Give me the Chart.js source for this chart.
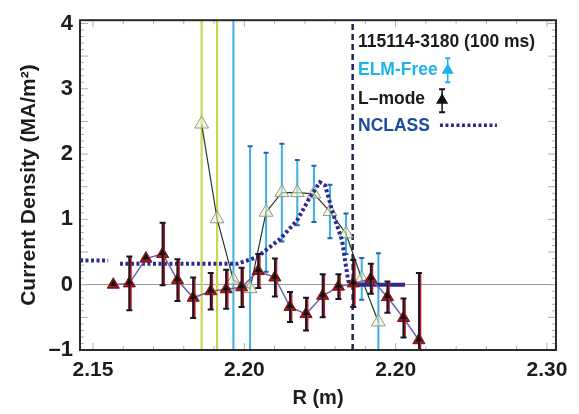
<!DOCTYPE html>
<html>
<head>
<meta charset="utf-8">
<script src="https://cdn.jsdelivr.net/npm/chart.js@4.4.1/dist/chart.umd.min.js"></script>
<style>
  html, body { margin: 0; padding: 0; background: #fff; }
</style>
</head>
<body>
<canvas id="myChart" width="579" height="414"></canvas>
<script>
// axis ticks (the third x label really reads 2.20 in the figure)
const xTickValues = [2.15, 2.20, 2.25, 2.30];
const xTickLabels = ['2.15', '2.20', '2.20', '2.30'];
const yTickValues = [-1, 0, 1, 2, 3, 4];
const yTickLabels = ['\u20131', '0', '1', '2', '3', '4'];
const xMin = 2.1457, xMax = 2.303;
const yMin = -1, yMax = 4.05;

// L-mode (filled triangles)
const lmodeR = [2.1567, 2.1620, 2.1675, 2.1730, 2.1779, 2.1831, 2.1889, 2.1940, 2.1991, 2.2046,
                2.2101, 2.2151, 2.2204, 2.2259, 2.2311, 2.2360, 2.2418, 2.2473, 2.2526, 2.2577];
const lmodeJ = [0.00, 0.02, 0.40, 0.47, 0.07, -0.20, -0.10, -0.07, -0.04, 0.21,
                0.11, -0.34, -0.45, -0.17, -0.03, 0.02, 0.09, -0.19, -0.51, -0.85];
const lmodeErr = [0, 0.41, 0, 0.48, 0.32, 0.31, 0.28, 0.30, 0.30, 0.26,
                  0.29, 0.23, 0.25, 0.33, 0.19, 0.36, 0.23, 0.24, 0.30, 1.03];

// ELM-Free (open triangles)
const elmR = [2.1859, 2.1910, 2.1964, 2.2019, 2.2072, 2.2124, 2.2175, 2.2230, 2.2283, 2.2336, 2.2388, 2.2443];
const elmJ = [2.46, 1.01, 0.07, -0.06, 1.11, 1.41, 1.41, 1.39, 1.12, 0.78, 0.09, -0.57];
const elmErr = [7, 7, 7, 2.18, 0.91, 0.75, 0.50, 0.43, 0.41, 0.31, 0.32, 1.05];

// NCLASS model (null = break in the curve)
const nclassR = [2.1457, 2.1550, 2.1552, 2.1589, 2.1854, 2.1976, 2.2042, 2.2118, 2.2174, 2.2217,
                 2.2250, 2.2267, 2.2293, 2.2323, 2.2333, 2.2343, 2.2349, 2.2531];
const nclassJ = [0.37, 0.37, null, 0.32, 0.32, 0.32, 0.42, 0.70, 0.98, 1.34,
                 1.57, 1.52, 1.09, 0.68, 0.37, 0.07, 0.00, 0.00];
const nclassSolidFromR = 2.2349;

const separatrixR = 2.2358;

const shotLabel = '115114-3180 (100 ms)';
const seriesNames = ['ELM-Free', 'L\u2013mode', 'NCLASS'];

const FONT = '"Liberation Sans", Arial, Helvetica, sans-serif';
Chart.defaults.font.family = FONT;
Chart.defaults.color = '#1c1c1c';

const toPoints = (xs, ys) => xs.map((x, i) => ({ x: x, y: ys[i] }));

function drawBar(ctx, x, top, bot, color, width, capColor, capW) {
    ctx.strokeStyle = color;
    ctx.lineWidth = width;
    ctx.beginPath();
    ctx.moveTo(x, top);
    ctx.lineTo(x, bot);
    ctx.stroke();
    if (capW) {
        ctx.strokeStyle = capColor;
        ctx.lineWidth = 2;
        ctx.beginPath();
        ctx.moveTo(x - capW / 2, top); ctx.lineTo(x + capW / 2, top);
        ctx.moveTo(x - capW / 2, bot); ctx.lineTo(x + capW / 2, bot);
        ctx.stroke();
    }
}

function tri(ctx, x, y, r, fill, stroke) {
    ctx.beginPath();
    ctx.moveTo(x, y - r);
    ctx.lineTo(x + r * 0.87, y + r * 0.5);
    ctx.lineTo(x - r * 0.87, y + r * 0.5);
    ctx.closePath();
    if (fill) { ctx.fillStyle = fill; ctx.fill(); }
    if (stroke) { ctx.strokeStyle = stroke; ctx.lineWidth = 1; ctx.stroke(); }
}

function clipArea(chart) {
    const a = chart.chartArea;
    chart.ctx.beginPath();
    chart.ctx.rect(a.left, a.top, a.right - a.left, a.bottom - a.top);
    chart.ctx.clip();
}

// error bars: ELM-Free behind the curves, L-mode on top
const errorBars = {
    id: 'errorBars',
    beforeDatasetsDraw(chart) {
        const ctx = chart.ctx, ys = chart.scales.y;
        const meta = chart.getDatasetMeta(2);
        ctx.save();
        clipArea(chart);
        meta.data.forEach((pt, i) => {
            const e = elmErr[i];
            const top = ys.getPixelForValue(elmJ[i] + e);
            const bot = ys.getPixelForValue(elmJ[i] - e);
            if (i < 2) drawBar(ctx, pt.x, top, bot, '#c9d650', 2.2);
            else drawBar(ctx, pt.x, top, bot, '#3eaee6', 2, '#2b5db0', 5);
        });
        ctx.restore();
    },
    afterDatasetsDraw(chart) {
        const ctx = chart.ctx, ys = chart.scales.y;
        const meta = chart.getDatasetMeta(0);
        ctx.save();
        clipArea(chart);
        meta.data.forEach((pt, i) => {
            const e = lmodeErr[i];
            if (e) {
                const top = ys.getPixelForValue(lmodeJ[i] + e);
                const bot = ys.getPixelForValue(lmodeJ[i] - e);
                drawBar(ctx, pt.x + 0.8, top, bot, '#b01c1c', 3.2);
                drawBar(ctx, pt.x, top, bot, '#14142a', 1.8, '#14142a', 6);
            }
            tri(ctx, pt.x, pt.y - 1, 4, '#111');
        });
        ctx.restore();
    }
};

// frame, inward ticks and in-plot legend
const frame = {
    id: 'frame',
    beforeDatasetsDraw(chart) {
        const ctx = chart.ctx, a = chart.chartArea;
        const xs = chart.scales.x, ys = chart.scales.y;
        ctx.save();
        ctx.strokeStyle = '#a9b0b0';
        ctx.lineWidth = 1;
        ctx.beginPath();
        for (let k = 215; k <= 230; k++) {
            const px = xs.getPixelForValue(k / 100);
            const len = k % 5 === 0 ? 7 : 4;
            ctx.moveTo(px, a.bottom); ctx.lineTo(px, a.bottom - len);
            ctx.moveTo(px, a.top); ctx.lineTo(px, a.top + len);
        }
        for (let k = -10; k <= 40; k++) {
            const py = ys.getPixelForValue(k / 10);
            const len = k % 5 === 0 ? 8 : 4;
            ctx.moveTo(a.left, py); ctx.lineTo(a.left + len, py);
            ctx.moveTo(a.right, py); ctx.lineTo(a.right - len, py);
        }
        ctx.stroke();
        ctx.restore();
    },
    afterDraw(chart) {
        const ctx = chart.ctx, a = chart.chartArea;
        ctx.save();
        ctx.strokeStyle = '#2a2a2a';
        ctx.lineWidth = 2;
        ctx.strokeRect(a.left, a.top, a.right - a.left, a.bottom - a.top);

        const x0 = a.right - 198;
        const rows = [a.top + 22, a.top + 50, a.top + 79, a.top + 106];
        ctx.font = 'bold 17.5px ' + FONT;
        ctx.textBaseline = 'middle';
        ctx.textAlign = 'left';
        ctx.fillStyle = '#1a1a1a';
        ctx.fillText(shotLabel, x0, rows[0]);

        ctx.fillStyle = '#1db2ea';
        ctx.fillText(seriesNames[0], x0, rows[1]);
        let ix = x0 + ctx.measureText(seriesNames[0]).width + 10;
        drawBar(ctx, ix, rows[1] - 12, rows[1] + 12, '#1db2ea', 1.5, '#1db2ea', 5);
        tri(ctx, ix, rows[1], 7, '#1db2ea');

        ctx.fillStyle = '#1a1a1a';
        ctx.fillText(seriesNames[1], x0, rows[2]);
        ix = x0 + ctx.measureText(seriesNames[1]).width + 17;
        drawBar(ctx, ix, rows[2] - 10, rows[2] + 13, '#111', 1.5, '#111', 6);
        tri(ctx, ix, rows[2] + 1, 7, '#111');

        ctx.fillStyle = '#1a4c9c';
        ctx.fillText(seriesNames[2], x0, rows[3]);
        ix = x0 + ctx.measureText(seriesNames[2]).width + 10;
        ctx.strokeStyle = '#2d2a92';
        ctx.lineWidth = 3.5;
        ctx.setLineDash([3, 2.5]);
        ctx.beginPath();
        ctx.moveTo(ix, rows[3] - 1);
        ctx.lineTo(ix + 57, rows[3] - 1);
        ctx.stroke();
        ctx.restore();
    }
};

var mychart = new Chart('myChart', {
    type: 'scatter',
    data: {
        datasets: [{
            label: seriesNames[1],
            data: toPoints(lmodeR, lmodeJ),
            showLine: true,
            borderColor: '#6b62b0',
            borderWidth: 1.5,
            pointStyle: 'triangle',
            pointRadius: 7,
            pointBackgroundColor: '#9a1b1b',
            pointBorderColor: '#7a1212',
            pointBorderWidth: 1,
        },
        {
            label: seriesNames[2],
            data: toPoints(nclassR, nclassJ),
            showLine: true,
            spanGaps: false,
            borderColor: '#2d2a92',
            borderWidth: 4,
            borderDash: [3, 2.5],
            borderCapStyle: 'butt',
            pointRadius: 0,
            segment: {
                borderDash: c => c.p0.parsed.x >= nclassSolidFromR ? [] : undefined,
            },
        },
        {
            label: seriesNames[0],
            data: toPoints(elmR, elmJ),
            showLine: true,
            borderColor: '#1e3b22',
            borderWidth: 1.2,
            pointStyle: 'triangle',
            pointRadius: 8,
            pointBackgroundColor: 'rgba(240,244,205,0.6)',
            pointBorderColor: '#8a9a8c',
            pointBorderWidth: 1,
        },
        {
            label: 'separatrix',
            data: [{ x: separatrixR, y: yMin }, { x: separatrixR, y: yMax }],
            showLine: true,
            borderColor: '#1d2258',
            borderWidth: 2.5,
            borderDash: [6, 4],
            pointRadius: 0,
        }]
    },
    options: {
        responsive: false,
        animation: false,
        layout: { padding: { left: 0, right: 23, top: 20, bottom: 0 } },
        plugins: {
            legend: { display: false },
            tooltip: { enabled: false },
        },
        scales: {
            x: {
                type: 'linear',
                min: xMin,
                max: xMax,
                afterFit: s => { s.height = 64; },
                afterBuildTicks: s => { s.ticks = xTickValues.map(v => ({ value: v })); },
                ticks: {
                    callback: (v, i) => xTickLabels[i],
                    font: { size: 21, weight: 'bold' },
                    color: '#1c1c1c',
                    padding: 8,
                    maxRotation: 0,
                    autoSkip: false,
                },
                grid: { display: false, drawTicks: false },
                border: { display: false },
                title: {
                    display: true,
                    text: 'R (m)',
                    font: { size: 20, weight: 'bold' },
                    color: '#1c1c1c',
                    padding: { top: 4, bottom: 4 },
                },
            },
            y: {
                type: 'linear',
                min: yMin,
                max: yMax,
                afterFit: s => { s.width = 80; },
                afterBuildTicks: s => { s.ticks = yTickValues.map(v => ({ value: v })); },
                ticks: {
                    callback: (v, i) => yTickLabels[i],
                    font: { size: 22, weight: 'bold' },
                    color: '#1c1c1c',
                    padding: 7,
                },
                grid: {
                    drawTicks: false,
                    lineWidth: 1,
                    color: c => (c.tick && c.tick.value === 0) ? '#9c9c9c' : 'rgba(0,0,0,0)',
                },
                border: { display: false },
                title: {
                    display: true,
                    text: 'Current Density (MA/m\u00b2)',
                    font: { size: 21, weight: 'bold' },
                    color: '#1c1c1c',
                    padding: { top: 17, bottom: 0 },
                },
            },
        },
    },
    plugins: [errorBars, frame],
});
</script>
</body>
</html>
